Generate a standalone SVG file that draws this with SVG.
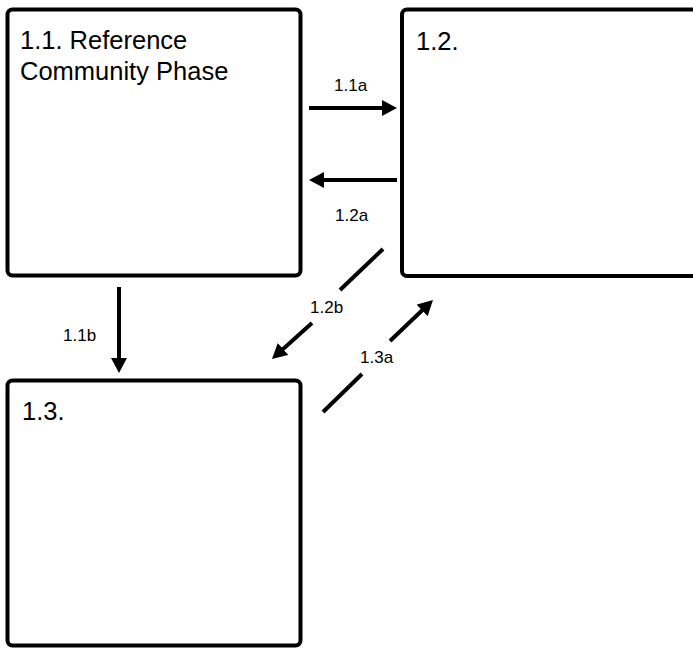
<svg xmlns="http://www.w3.org/2000/svg" width="693" height="650" viewBox="0 0 693 650">
  <style>
    .box { fill: #ffffff; stroke: #000000; stroke-width: 4; }
    .title { font-family: "Liberation Sans", Arial, sans-serif; font-size: 25.5px; fill: #000000; }
    .lbl { font-family: "Liberation Sans", Arial, sans-serif; font-size: 17px; fill: #000000; }
    .conn { fill: none; stroke: #000000; stroke-width: 4; }
  </style>
  <defs>
    <marker id="arrow" viewBox="0 0 15 16" refX="3" refY="8" markerWidth="15" markerHeight="16" markerUnits="userSpaceOnUse" orient="auto">
      <path d="M0,0 L15,8 L0,16 z" fill="#000000"/>
    </marker>
  </defs>
  <rect width="693" height="650" fill="#ffffff"/>

  <g id="node-1-1">
    <rect class="box" x="7.5" y="9.5" width="293" height="266" rx="5"/>
    <text class="title" x="20" y="49">1.1. Reference</text>
    <text class="title" x="20" y="80">Community Phase</text>
  </g>
  <g id="node-1-2">
    <rect class="box" x="402" y="9.5" width="300" height="266.5" rx="5"/>
    <text class="title" x="416" y="50">1.2.</text>
  </g>
  <g id="node-1-3">
    <rect class="box" x="7.5" y="380.5" width="293" height="265" rx="5"/>
    <text class="title" x="22" y="420">1.3.</text>
  </g>

  <g id="connectors">
    <line class="conn" x1="309" y1="108" x2="385" y2="108" marker-end="url(#arrow)"/>
    <text class="lbl" x="334" y="91">1.1a</text>

    <line class="conn" x1="397" y1="180" x2="321" y2="180" marker-end="url(#arrow)"/>
    <text class="lbl" x="335" y="221">1.2a</text>

    <line class="conn" x1="119" y1="287" x2="119" y2="361" marker-end="url(#arrow)"/>
    <text class="lbl" x="63" y="341">1.1b</text>

    <line class="conn" x1="383" y1="249" x2="340" y2="290"/>
    <line class="conn" x1="312" y1="323" x2="280.9" y2="351" marker-end="url(#arrow)"/>
    <text class="lbl" x="310" y="313">1.2b</text>

    <line class="conn" x1="323" y1="412" x2="362" y2="374"/>
    <line class="conn" x1="390" y1="341" x2="424.3" y2="308.3" marker-end="url(#arrow)"/>
    <text class="lbl" x="360" y="363">1.3a</text>
  </g>
</svg>
